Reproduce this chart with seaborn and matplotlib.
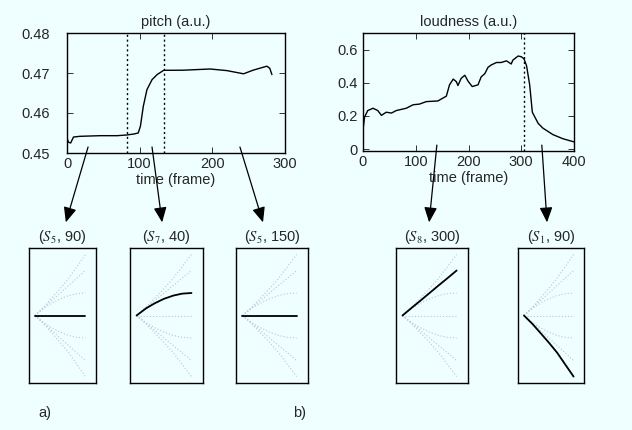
"""pitch / loudness traces with the matched primitive segments, seaborn version"""
import matplotlib
matplotlib.use("Agg")
import matplotlib.pyplot as plt
from matplotlib.patches import ConnectionPatch
import seaborn as sns

BG = "#effefe"

# pitch trace (frame, a.u.)
pitch_t = [0, 2, 5, 9, 18, 46, 69, 82, 92, 98, 101, 105, 110, 117, 124, 133,
           160, 197, 220, 243, 256, 275, 279, 282]
pitch_v = [0.45375, 0.4527, 0.4525, 0.4540, 0.45417, 0.45433, 0.45433, 0.4545,
           0.45475, 0.4550, 0.45667, 0.46167, 0.46583, 0.46833, 0.4696, 0.47067,
           0.4707, 0.4710, 0.4706, 0.4698, 0.4707, 0.4717, 0.4712, 0.4696]
pitch_bounds = [82, 133]

# loudness trace (frame, a.u.)
loud_t = [0, 3, 9, 19, 28, 35, 44, 54, 63, 82, 95, 107, 120, 142, 158, 164,
          171, 177, 180, 186, 193, 199, 207, 218, 224, 231, 237, 243, 253, 262,
          272, 281, 284, 294, 300, 305, 310, 316, 321, 332, 341, 360, 379, 400]
loud_v = [0.116, 0.193, 0.232, 0.246, 0.232, 0.203, 0.222, 0.217, 0.232, 0.246,
          0.267, 0.271, 0.286, 0.290, 0.319, 0.387, 0.422, 0.406, 0.383, 0.426,
          0.445, 0.410, 0.377, 0.387, 0.435, 0.455, 0.493, 0.507, 0.522, 0.522,
          0.532, 0.513, 0.536, 0.561, 0.557, 0.545, 0.503, 0.387, 0.222, 0.155,
          0.126, 0.087, 0.062, 0.043]
loud_bounds = [305]

# primitive shapes (normalised time, normalised value)
prim_x = [0, 0.17, 0.33, 0.5, 0.67, 0.83, 1.0]
primitives = {
    "up_fast": [0, 0.13, 0.27, 0.42, 0.58, 0.76, 0.95],
    "up_lin": [0, 0.12, 0.23, 0.35, 0.47, 0.58, 0.70],
    "up_arc": [0, 0.11, 0.19, 0.26, 0.31, 0.34, 0.35],
    "flat": [0, 0, 0, 0, 0, 0, 0],
    "down_arc": [0, -0.11, -0.19, -0.26, -0.31, -0.34, -0.35],
    "down_lin": [0, -0.12, -0.23, -0.35, -0.47, -0.58, -0.70],
    "down_fast": [0, -0.13, -0.27, -0.42, -0.58, -0.76, -0.95],
}

# matched segments: (label, primitive, frame where it is taken)
pitch_segs = [("($S_5$, 90)", "flat", 29),
              ("($S_7$, 40)", "up_arc", 117),
              ("($S_5$, 150)", "flat", 238)]
loud_segs = [("($S_8$, 300)", "up_lin", 140),
             ("($S_1$, 90)", "down_fast", 339)]

sns.set_style("ticks", {"axes.facecolor": BG, "figure.facecolor": BG,
                        "xtick.direction": "in", "ytick.direction": "in"})
plt.rcParams["font.family"] = ["Liberation Sans", "DejaVu Sans"]
plt.rcParams["mathtext.fontset"] = "stix"

W, H = 632, 430
fig = plt.figure(figsize=(W / 100, H / 100), dpi=100)


def px_axes(left, right, top, bottom):
    return fig.add_axes([left / W, 1 - bottom / H, (right - left) / W, (bottom - top) / H])


def trace_axes(ax, t, v, bounds, title, xlim, ylim, xticks, yticks, ypad):
    sns.lineplot(x=t, y=v, ax=ax, color="k", lw=1.0)
    for b in bounds:
        ax.axvline(b, color="k", ls=(0, (1.5, 2)), lw=1.0)
    ax.set_xlim(xlim)
    ax.set_ylim(ylim)
    ax.set_xticks(xticks)
    ax.set_yticks(yticks)
    ax.set_yticklabels([f"{y:g}" for y in yticks])
    ax.tick_params(axis="both", top=True, right=True, length=4, width=0.7,
                   labelsize=10.5, color="#333333")
    ax.tick_params(axis="x", pad=3)
    ax.tick_params(axis="y", pad=ypad)
    ax.set_title(title, fontsize=10.5, pad=5)
    ax.set_xlabel("time (frame)", fontsize=10.5, labelpad=1)
    ax.set_ylabel("")
    for s in ax.spines.values():
        s.set_linewidth(1.0)
        s.set_color("k")


def prim_axes(ax, label, prim):
    for name, ys in primitives.items():
        sns.lineplot(x=prim_x, y=ys, ax=ax, color="#bcc4de", lw=0.8,
                     ls=(0, (1, 1.8)))
    sns.lineplot(x=prim_x, y=primitives[prim], ax=ax, color="k", lw=1.3)
    ax.set_xlim(-0.12, 1.21)
    ax.set_ylim(-1.05, 1.05)
    ax.set_xticks([])
    ax.set_yticks([])
    ax.set_xlabel("")
    ax.set_ylabel("")
    ax.set_title(label, fontsize=10.5, pad=5)
    for s in ax.spines.values():
        s.set_linewidth(1.0)
        s.set_color("k")


ax_p = px_axes(67, 285, 33, 153)
trace_axes(ax_p, pitch_t, pitch_v, pitch_bounds, "pitch (a.u.)", (0, 300),
           (0.45, 0.48), [0, 100, 200, 300], [0.45, 0.46, 0.47, 0.48], 12)

ax_l = px_axes(363, 574, 33, 151)
trace_axes(ax_l, loud_t, loud_v, loud_bounds, "loudness (a.u.)", (0, 400),
           (-0.012, 0.7), [0, 100, 200, 300, 400], [0, 0.2, 0.4, 0.6], 4)

panel_px = [(29, 96), (130, 203), (236, 308), (396, 468), (518, 584)]
tip_frac = [0.55, 0.44, 0.375, 0.46, 0.44]
segs = [(ax_p, s) for s in pitch_segs] + [(ax_l, s) for s in loud_segs]

for (left, right), tip, (src, (label, prim, frame)) in zip(panel_px, tip_frac, segs):
    ax = px_axes(left, right, 248, 383)
    prim_axes(ax, label, prim)
    con = ConnectionPatch(xyA=(frame, 0.05), coordsA=src.get_xaxis_transform(),
                          xyB=(tip, 1.19), coordsB=ax.transAxes,
                          arrowstyle="-|>,head_length=0.65,head_width=0.28",
                          mutation_scale=14, lw=0.9,
                          color="k", shrinkA=0, shrinkB=0)
    fig.add_artist(con)

fig.text(38 / W, 1 - 413 / H, "a)", fontsize=10.5, va="center")
fig.text(293 / W, 1 - 413 / H, "b)", fontsize=10.5, va="center")

fig.savefig("out.png", dpi=100, facecolor=BG)
